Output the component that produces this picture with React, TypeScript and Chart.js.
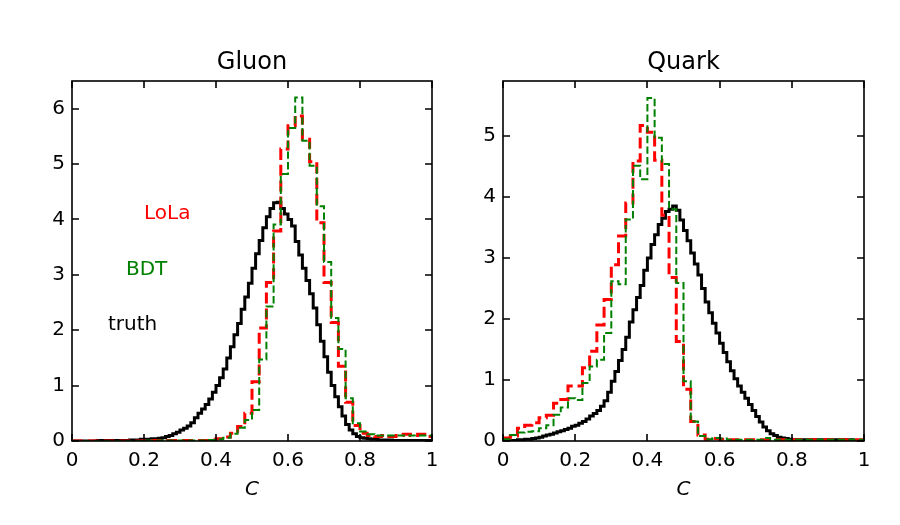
import React, { useEffect, useRef } from 'react';
import { Chart, registerables } from 'chart.js';

Chart.register(...registerables);

// ---------------- data ----------------
const FINE_BIN = 0.01;   // truth histogram bin width
const COARSE_BIN = 0.02; // LoLa / BDT histogram bin width
const X_TICK_STEP = 0.2;

const GLUON_TRUTH = [
  0.00, 0.00, 0.00, 0.00, 0.00, 0.00, 0.00, 0.01, 0.01, 0.01,
  0.01, 0.01, 0.01, 0.01, 0.01, 0.01, 0.02, 0.02, 0.02, 0.03,
  0.03, 0.03, 0.04, 0.04, 0.05, 0.06, 0.08, 0.10, 0.13, 0.16,
  0.20, 0.23, 0.27, 0.33, 0.42, 0.50, 0.58, 0.66, 0.76, 0.88,
  1.00, 1.14, 1.30, 1.50, 1.70, 1.92, 2.12, 2.38, 2.60, 2.85,
  3.12, 3.38, 3.62, 3.85, 4.05, 4.20, 4.30, 4.31, 4.20, 4.10,
  4.00, 3.88, 3.60, 3.36, 3.12, 2.90, 2.66, 2.40, 2.10, 1.80,
  1.52, 1.24, 1.00, 0.80, 0.62, 0.45, 0.30, 0.20, 0.13, 0.08,
  0.06, 0.05, 0.04, 0.03, 0.03, 0.02, 0.02, 0.02, 0.02, 0.01,
  0.01, 0.01, 0.01, 0.01, 0.01, 0.01, 0.01, 0.01, 0.01, 0.01,
];

const GLUON_LOLA = [
  0.00, 0.00, 0.00, 0.00, 0.00, 0.00, 0.00, 0.00, 0.00, 0.00,
  0.01, 0.01, 0.01, 0.01, 0.01, 0.01, 0.01, 0.01, 0.01, 0.02,
  0.04, 0.07, 0.14, 0.26, 0.50, 1.07, 2.04, 2.86, 3.79, 5.27,
  5.69, 5.87, 5.45, 5.04, 3.94, 2.86, 2.14, 1.35, 0.70, 0.28,
  0.14, 0.10, 0.08, 0.10, 0.08, 0.10, 0.12, 0.10, 0.12, 0.08,
];

const GLUON_BDT = [
  0.00, 0.00, 0.00, 0.00, 0.00, 0.00, 0.00, 0.00, 0.00, 0.00,
  0.01, 0.01, 0.01, 0.01, 0.01, 0.01, 0.01, 0.01, 0.01, 0.02,
  0.03, 0.06, 0.13, 0.24, 0.38, 0.56, 1.47, 2.43, 3.91, 4.82,
  5.65, 6.20, 5.42, 4.97, 4.24, 3.23, 2.22, 1.66, 0.77, 0.32,
  0.17, 0.12, 0.10, 0.10, 0.10, 0.10, 0.10, 0.10, 0.10, 0.10,
];

const QUARK_TRUTH = [
  0.00, 0.01, 0.01, 0.01, 0.02, 0.02, 0.03, 0.03, 0.04, 0.05,
  0.06, 0.08, 0.10, 0.11, 0.13, 0.15, 0.17, 0.19, 0.21, 0.24,
  0.26, 0.29, 0.32, 0.36, 0.41, 0.45, 0.50, 0.57, 0.66, 0.80,
  0.98, 1.14, 1.32, 1.50, 1.70, 1.95, 2.15, 2.35, 2.55, 2.80,
  3.00, 3.22, 3.38, 3.55, 3.65, 3.76, 3.80, 3.85, 3.78, 3.62,
  3.45, 3.28, 3.08, 2.90, 2.72, 2.50, 2.28, 2.10, 1.93, 1.77,
  1.60, 1.45, 1.30, 1.15, 1.02, 0.90, 0.80, 0.70, 0.60, 0.50,
  0.40, 0.31, 0.23, 0.17, 0.12, 0.09, 0.06, 0.05, 0.04, 0.03,
  0.02, 0.02, 0.02, 0.02, 0.02, 0.02, 0.02, 0.02, 0.02, 0.02,
  0.02, 0.02, 0.02, 0.02, 0.02, 0.02, 0.02, 0.01, 0.01, 0.01,
];

const QUARK_LOLA = [
  0.05, 0.08, 0.21, 0.26, 0.30, 0.38, 0.42, 0.62, 0.68, 0.90,
  0.90, 1.20, 1.47, 1.90, 2.32, 2.89, 3.36, 3.90, 4.59, 5.17,
  5.06, 4.60, 3.70, 2.68, 1.63, 0.85, 0.32, 0.10, 0.03, 0.04,
  0.03, 0.02, 0.02, 0.02, 0.02, 0.02, 0.02, 0.02, 0.02, 0.02,
  0.02, 0.02, 0.02, 0.02, 0.02, 0.02, 0.02, 0.02, 0.02, 0.02,
];

const QUARK_BDT = [
  0.03, 0.10, 0.14, 0.15, 0.16, 0.21, 0.26, 0.43, 0.55, 0.70,
  0.67, 0.95, 1.22, 1.33, 1.77, 2.62, 2.57, 3.63, 4.51, 4.29,
  5.62, 4.97, 4.54, 3.80, 2.59, 0.98, 0.32, 0.08, 0.03, 0.05,
  0.04, 0.02, 0.02, 0.02, 0.02, 0.02, 0.05, 0.02, 0.02, 0.02,
  0.02, 0.02, 0.02, 0.02, 0.02, 0.02, 0.02, 0.02, 0.02, 0.02,
];

const PANEL_TITLES = ['Gluon', 'Quark'];
const X_LABEL = 'C';
const LEGEND_LABELS = ['LoLa', 'BDT', 'truth'];
// legend text anchors in data coordinates (left edge x, baseline y)
const LEGEND_X = [0.2, 0.15, 0.1];
const LEGEND_Y = [4, 3, 2];

// ---------------- helpers ----------------
const FONT = '"DejaVu Sans", sans-serif';
const RED = '#ff0000';
const GREEN = '#008000';
const BLACK = '#000000';

function histPoints(values: number[], width: number) {
  const pts = values.map((v, i) => ({ x: +(i * width).toFixed(4), y: v }));
  pts.push({ x: +(values.length * width).toFixed(4), y: values[values.length - 1] });
  return pts;
}

type PanelCfg = {
  title: string;
  truth: number[];
  lola: number[];
  bdt: number[];
  yMax: number;
  offsetX: number;
  yAxisWidth: number;
  padRight: number;
  showLabels: boolean;
};

function makeFramePlugin(cfg: PanelCfg) {
  return {
    id: 'frame_' + cfg.title,
    afterDatasetsDraw(chart: any) {
      const { ctx, chartArea } = chart;
      const { left, right, top, bottom } = chartArea;
      const xs = chart.scales.x;
      const ys = chart.scales.y;
      ctx.save();
      ctx.strokeStyle = BLACK;
      ctx.lineWidth = 1.6;
      ctx.strokeRect(left, top, right - left, bottom - top);
      const tl = 7;
      ctx.beginPath();
      xs.ticks.forEach((t: any) => {
        const px = Math.round(xs.getPixelForValue(t.value));
        ctx.moveTo(px, bottom);
        ctx.lineTo(px, bottom - tl);
        ctx.moveTo(px, top);
        ctx.lineTo(px, top + tl);
      });
      ys.ticks.forEach((t: any) => {
        const py = Math.round(ys.getPixelForValue(t.value));
        ctx.moveTo(left, py);
        ctx.lineTo(left + tl, py);
        ctx.moveTo(right, py);
        ctx.lineTo(right - tl, py);
      });
      ctx.stroke();

      ctx.fillStyle = BLACK;
      ctx.textAlign = 'center';
      ctx.textBaseline = 'alphabetic';
      ctx.font = '24px ' + FONT;
      ctx.fillText(cfg.title, (left + right) / 2, top - 12);
      ctx.font = 'italic 20px ' + FONT;
      ctx.fillText(X_LABEL, (left + right) / 2, 495);

      if (cfg.showLabels) {
        const colors = [RED, GREEN, BLACK];
        ctx.font = '20px ' + FONT;
        ctx.textAlign = 'left';
        LEGEND_LABELS.forEach((lab, i) => {
          ctx.fillStyle = colors[i];
          ctx.fillText(lab, xs.getPixelForValue(LEGEND_X[i]), ys.getPixelForValue(LEGEND_Y[i]));
        });
      }
      ctx.restore();
    },
  };
}

function Panel({ cfg }: { cfg: PanelCfg }) {
  const ref = useRef<HTMLCanvasElement | null>(null);
  useEffect(() => {
    if (!ref.current) return;
    Chart.defaults.font.family = FONT;
    Chart.defaults.font.size = 20;
    Chart.defaults.color = BLACK;
    const chart = new Chart(ref.current, {
      type: 'line',
      data: {
        datasets: [
          {
            label: 'BDT',
            data: histPoints(cfg.bdt, COARSE_BIN),
            borderColor: GREEN,
            borderWidth: 2,
            borderDash: [7.4, 3.2],
            stepped: 'before',
            pointRadius: 0,
            fill: false,
          },
          {
            label: 'LoLa',
            data: histPoints(cfg.lola, COARSE_BIN),
            borderColor: RED,
            borderWidth: 3,
            borderDash: [11, 4.8],
            stepped: 'before',
            pointRadius: 0,
            fill: false,
          },
          {
            label: 'truth',
            data: histPoints(cfg.truth, FINE_BIN),
            borderColor: BLACK,
            borderWidth: 3,
            stepped: 'before',
            pointRadius: 0,
            fill: false,
          },
        ],
      } as any,
      options: {
        responsive: false,
        animation: false,
        devicePixelRatio: 1,
        events: [],
        layout: { padding: { top: 81, right: cfg.padRight, bottom: 0, left: 0 } },
        plugins: {
          legend: { display: false },
          tooltip: { enabled: false },
          title: { display: false },
        },
        scales: {
          x: {
            type: 'linear',
            min: 0,
            max: 1,
            ticks: {
              stepSize: X_TICK_STEP,
              padding: 8,
              maxRotation: 0,
              autoSkip: false,
              color: BLACK,
              font: { size: 20, family: FONT },
              callback: (v: any) => Number(v).toFixed(1).replace(/\.0$/, ''),
            },
            grid: { display: false, drawTicks: false },
            border: { display: false },
            afterFit: (s: any) => { s.height = 84; },
          },
          y: {
            type: 'linear',
            min: 0,
            max: cfg.yMax,
            ticks: {
              stepSize: 1,
              padding: 7,
              includeBounds: false,
              color: BLACK,
              font: { size: 20, family: FONT },
            },
            grid: { display: false, drawTicks: false },
            border: { display: false },
            afterFit: (s: any) => { s.width = cfg.yAxisWidth; },
          },
        },
      } as any,
      plugins: [makeFramePlugin(cfg)],
    });
    return () => chart.destroy();
  }, [cfg]);
  return (
    <canvas
      ref={ref}
      width={450}
      height={525}
      style={{ position: 'absolute', left: cfg.offsetX, top: 0, width: 450, height: 525 }}
    />
  );
}

const LEFT_CFG: PanelCfg = {
  title: PANEL_TITLES[0],
  truth: GLUON_TRUTH,
  lola: GLUON_LOLA,
  bdt: GLUON_BDT,
  yMax: 6.5,
  offsetX: 0,
  yAxisWidth: 72,
  padRight: 18,
  showLabels: true,
};

const RIGHT_CFG: PanelCfg = {
  title: PANEL_TITLES[1],
  truth: QUARK_TRUTH,
  lola: QUARK_LOLA,
  bdt: QUARK_BDT,
  yMax: 5.9,
  offsetX: 450,
  yAxisWidth: 53,
  padRight: 36,
  showLabels: false,
};

export default function App() {
  return (
    <div
      style={{
        position: 'absolute',
        left: 0,
        top: 0,
        width: 900,
        height: 525,
        background: '#ffffff',
        overflow: 'hidden',
      }}
    >
      <Panel cfg={LEFT_CFG} />
      <Panel cfg={RIGHT_CFG} />
    </div>
  );
}
